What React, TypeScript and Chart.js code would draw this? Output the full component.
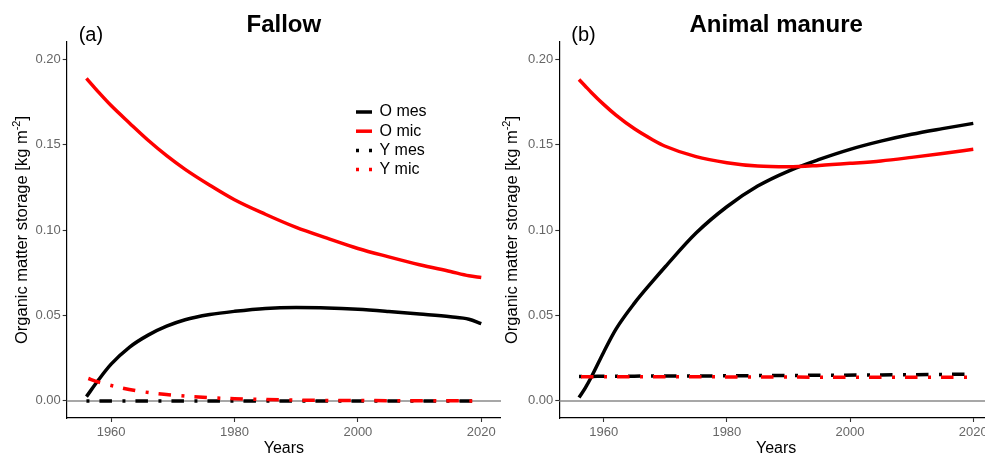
import React, { useEffect, useRef } from "react";
import { Chart, registerables } from "chart.js";

Chart.register(...registerables);

const FONT = "'Liberation Sans', Arial, Helvetica, sans-serif";

// ---------- data ----------
const panelTitles = ["Fallow", "Animal manure"];
const panelTags = ["(a)", "(b)"];
const seriesLabels = ["O mes", "O mic", "Y mes", "Y mic"];
const xTicks = [1960, 1980, 2000, 2020];
const yTicks = [0, 0.05, 0.1, 0.15, 0.2];

// Panel (a) Fallow
const yearsOA = [1956, 1958, 1960, 1963, 1966, 1969, 1972, 1976, 1980, 1985, 1990, 1995, 2000, 2005, 2010, 2015, 2018, 2020];
const oMesA = [0.0025, 0.0125, 0.0215, 0.0315, 0.0385, 0.0437, 0.0475, 0.0505, 0.0524, 0.0541, 0.0546, 0.0544, 0.0536, 0.0523, 0.0508, 0.0492, 0.0478, 0.0452];
const oMicA = [0.1887, 0.1805, 0.1728, 0.1625, 0.1525, 0.1435, 0.1355, 0.1262, 0.1177, 0.1092, 0.1015, 0.0952, 0.0892, 0.0843, 0.0797, 0.0757, 0.0732, 0.0722];
const yearsYA = [1956, 1958, 1961, 1964, 1967, 1970, 1973, 1976, 1980, 1985, 1990, 1995, 2000, 2010, 2019];
const yMesA = [0, 0, 0, 0, 0, 0, 0, 0, 0, 0, 0, 0, 0, 0, 0];
const yMicA = [0.0135, 0.011, 0.0082, 0.006, 0.0045, 0.0034, 0.0025, 0.0019, 0.0013, 0.0008, 0.0005, 0.0003, 0.0002, 0.0001, 0.0];

// Panel (b) Animal manure
const yearsOB = [1956, 1957, 1958, 1960, 1962, 1965, 1968, 1970, 1975, 1980, 1985, 1990, 1995, 2000, 2005, 2010, 2015, 2020];
const oMesB = [0.002, 0.0075, 0.014, 0.0285, 0.042, 0.0572, 0.0702, 0.0785, 0.0982, 0.1136, 0.1257, 0.1345, 0.1413, 0.1472, 0.152, 0.156, 0.1593, 0.1624];
const oMicB = [0.1881, 0.1843, 0.1805, 0.1735, 0.1672, 0.1592, 0.1527, 0.149, 0.1429, 0.1394, 0.1374, 0.137, 0.1378, 0.139, 0.1404, 0.1425, 0.1448, 0.1472];
const yearsYB = [1956, 1965, 1975, 1985, 1995, 2005, 2019];
const yMesB = [0.0143, 0.0145, 0.0146, 0.0148, 0.015, 0.0152, 0.0156];
const yMicB = [0.0142, 0.0142, 0.0141, 0.014, 0.0139, 0.0139, 0.0138];

const DOTDASH = [3, 10, 12.5, 10.5];

function pts(xs: number[], ys: number[]) {
  return xs.map((x, i) => ({ x, y: ys[i] }));
}

type PanelProps = {
  idx: number;
  left: number;
  width: number;
  yAxisWidth: number;
  yearsO: number[];
  oMes: number[];
  oMic: number[];
  yearsY: number[];
  yMes: number[];
  yMic: number[];
  showLegend: boolean;
};

const H = 457;

function Panel(p: PanelProps) {
  const ref = useRef<HTMLCanvasElement | null>(null);

  useEffect(() => {
    if (!ref.current) return;

    const decor = {
      id: "decor",
      beforeDatasetsDraw(chart: any) {
        const { ctx, chartArea } = chart;
        const y0 = chart.scales.y.getPixelForValue(0);
        ctx.save();
        ctx.strokeStyle = "#8a8a8a";
        ctx.lineWidth = 1.5;
        ctx.beginPath();
        ctx.moveTo(chartArea.left, y0);
        ctx.lineTo(chartArea.right, y0);
        ctx.stroke();
        ctx.restore();
      },
      afterDraw(chart: any) {
        const { ctx, chartArea } = chart;
        const cx = (chartArea.left + chartArea.right) / 2;
        const cy = (chartArea.top + chartArea.bottom) / 2;
        ctx.save();
        ctx.fillStyle = "#000";
        // title
        ctx.font = `bold 24px ${FONT}`;
        ctx.textAlign = "center";
        ctx.textBaseline = "alphabetic";
        ctx.fillText(panelTitles[p.idx], cx, 31.5);
        // tag
        ctx.font = `20px ${FONT}`;
        ctx.textAlign = "left";
        ctx.fillText(panelTags[p.idx], chartArea.left + 12, 41);
        // x title
        ctx.font = `16px ${FONT}`;
        ctx.textAlign = "center";
        ctx.fillText("Years", cx, 453);
        // y title with superscript
        const main = "Organic matter storage [kg m";
        const sup = "-2";
        const end = "]";
        ctx.font = `16.5px ${FONT}`;
        const w1 = ctx.measureText(main).width;
        const w3 = ctx.measureText(end).width;
        ctx.font = `11px ${FONT}`;
        const w2 = ctx.measureText(sup).width;
        const W = w1 + w2 + w3;
        ctx.translate(21 + 5.5, cy);
        ctx.rotate(-Math.PI / 2);
        ctx.textAlign = "left";
        ctx.textBaseline = "alphabetic";
        let x = -W / 2;
        ctx.font = `16.5px ${FONT}`;
        ctx.fillText(main, x, 0);
        x += w1;
        ctx.font = `11px ${FONT}`;
        ctx.fillText(sup, x, -7);
        x += w2;
        ctx.font = `16.5px ${FONT}`;
        ctx.fillText(end, x, 0);
        ctx.restore();

        if (p.showLegend) {
          ctx.save();
          const ds = chart.data.datasets;
          const x0 = 356;
          const x1 = 372;
          for (let i = 0; i < ds.length; i++) {
            const yy = 112 + i * 19.2;
            ctx.strokeStyle = ds[i].borderColor;
            ctx.lineWidth = 3.5;
            ctx.lineCap = "butt";
            ctx.setLineDash(ds[i].borderDash || []);
            ctx.lineDashOffset = 0;
            ctx.beginPath();
            ctx.moveTo(x0, yy);
            ctx.lineTo(x1, yy);
            ctx.stroke();
            ctx.setLineDash([]);
            ctx.fillStyle = "#000";
            ctx.font = `16px ${FONT}`;
            ctx.textAlign = "left";
            ctx.textBaseline = "middle";
            ctx.fillText(ds[i].label, 379.5, yy);
          }
          ctx.restore();
        }
      },
    };

    const line = (label: string, data: any[], color: string, order: number, dash?: number[], off?: number) => ({
      label,
      data,
      borderColor: color,
      backgroundColor: color,
      borderWidth: 3.5,
      borderDash: dash || [],
      borderDashOffset: off || 0,
      borderCapStyle: "butt",
      pointRadius: 0,
      fill: false,
      cubicInterpolationMode: "monotone",
      order,
    });

    const tickFont = { family: FONT, size: 13 };

    const chart = new Chart(ref.current, {
      type: "line",
      data: {
        datasets: [
          line(seriesLabels[0], pts(p.yearsO, p.oMes), "#000000", 4),
          line(seriesLabels[1], pts(p.yearsO, p.oMic), "#ff0000", 3),
          line(seriesLabels[2], pts(p.yearsY, p.yMes), "#000000", 2, DOTDASH, 0),
          line(seriesLabels[3], pts(p.yearsY, p.yMic), "#ff0000", 1, DOTDASH, 11),
        ] as any,
      },
      options: {
        responsive: false,
        animation: false,
        devicePixelRatio: 1,
        parsing: false as any,
        layout: { padding: { top: 42, left: 0, right: 0, bottom: 0 } },
        plugins: {
          legend: { display: false },
          tooltip: { enabled: false },
          title: { display: false },
        },
        scales: {
          x: {
            type: "linear",
            min: 1952.8,
            max: 2023.2,
            afterBuildTicks: (s: any) => {
              s.ticks = xTicks.map((v) => ({ value: v }));
            },
            afterFit: (s: any) => {
              s.height = 39;
            },
            grid: {
              display: true,
              drawOnChartArea: false,
              drawTicks: true,
              tickLength: 4,
              tickColor: "#333333",
              tickWidth: 1.1,
            },
            border: { display: true, color: "#000000", width: 1.2 },
            ticks: {
              color: "#666666",
              font: tickFont,
              padding: 3,
              maxRotation: 0,
              autoSkip: false,
              callback: (v: any) => String(v),
            },
          },
          y: {
            type: "linear",
            min: -0.01,
            max: 0.21,
            afterBuildTicks: (s: any) => {
              s.ticks = yTicks.map((v) => ({ value: v }));
            },
            afterFit: (s: any) => {
              s.width = p.yAxisWidth;
            },
            grid: {
              display: true,
              drawOnChartArea: false,
              drawTicks: true,
              tickLength: 4,
              tickColor: "#333333",
              tickWidth: 1.1,
            },
            border: { display: true, color: "#000000", width: 1.2 },
            ticks: {
              color: "#666666",
              font: tickFont,
              padding: 2,
              autoSkip: false,
              callback: (v: any) => Number(v).toFixed(2),
            },
          },
        },
      } as any,
      plugins: [decor],
    });

    return () => chart.destroy();
  }, []);

  return (
    <div style={{ position: "absolute", left: p.left, top: 0, width: p.width, height: H }}>
      <canvas ref={ref} width={p.width} height={H} style={{ display: "block", width: p.width, height: H }} />
    </div>
  );
}

export default function App() {
  return (
    <div
      style={{
        position: "absolute",
        left: 0,
        top: 0,
        width: 985,
        height: H,
        overflow: "hidden",
        background: "#ffffff",
      }}
    >
      <Panel
        idx={0}
        left={0}
        width={501}
        yAxisWidth={66.7}
        yearsO={yearsOA}
        oMes={oMesA}
        oMic={oMicA}
        yearsY={yearsYA}
        yMes={yMesA}
        yMic={yMicA}
        showLegend={true}
      />
      <Panel
        idx={1}
        left={490}
        width={503}
        yAxisWidth={69.3}
        yearsO={yearsOB}
        oMes={oMesB}
        oMic={oMicB}
        yearsY={yearsYB}
        yMes={yMesB}
        yMic={yMicB}
        showLegend={false}
      />
    </div>
  );
}
